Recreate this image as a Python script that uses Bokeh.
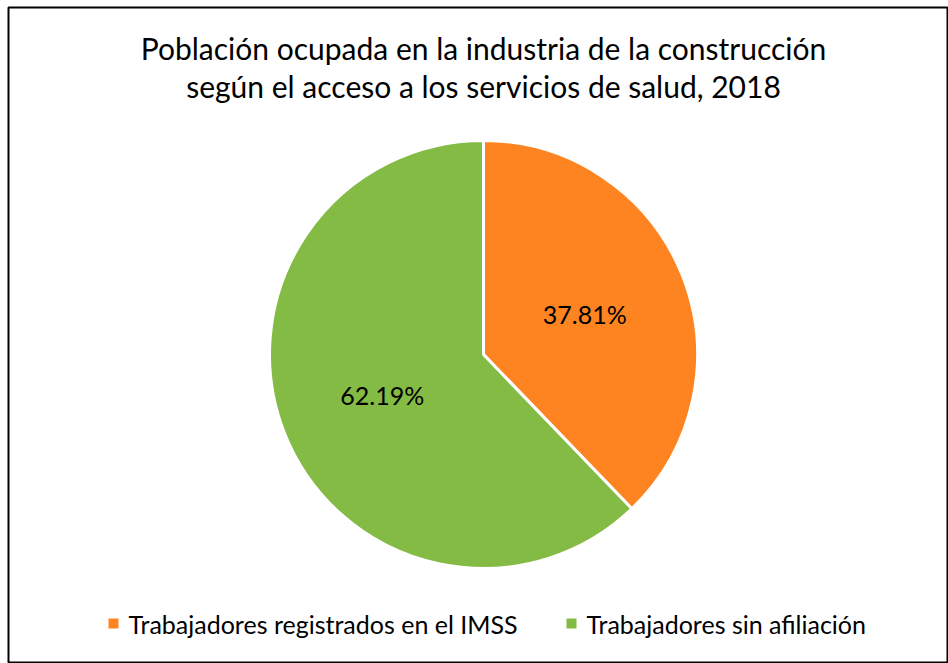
import math
from bokeh.plotting import figure
from bokeh.models import Range1d
from bokeh.core.properties import value
from bokeh.embed import file_html
from bokeh.resources import INLINE

title_lines = ["Población ocupada en la industria de la construcción",
               "según el acceso a los servicios de salud, 2018"]
categories = ["Trabajadores registrados en el IMSS", "Trabajadores sin afiliación"]
shares = [37.81, 62.19]
colors = ["#FD8420", "#84BB44"]

W, H = 948, 663
FONT = "Lato"

p = figure(width=W, height=H, output_backend="svg", toolbar_location=None,
           x_range=Range1d(0, W), y_range=Range1d(0, H), min_border=0,
           outline_line_color=None)
p.axis.visible = False
p.grid.visible = False

def Y(py):
    return H - py

# frame border (chart area outline)
p.quad(left=[8], right=[947], bottom=[Y(662)], top=[Y(7)], fill_color=None,
       line_color="black", line_width=2)

cx, cy, r = 483, Y(354), 214

total = sum(shares)
start = math.pi / 2
starts, ends, mids = [], [], []
for s in shares:
    ang = 2 * math.pi * s / total
    end = start - ang
    starts.append(end)
    ends.append(start)
    mids.append((start + end) / 2)
    start = end

p.wedge(x=[cx] * len(shares), y=[cy] * len(shares), radius=r,
        start_angle=starts, end_angle=ends, fill_color=colors,
        line_color="white", line_width=3)

lab_r = 0.51 * r
lx = [cx + lab_r * math.cos(m) for m in mids]
ly = [cy + lab_r * math.sin(m) for m in mids]
p.text(x=lx, y=ly, text=[f"{s:.2f}%" for s in shares], text_align="center",
       text_baseline="middle", text_font=value(FONT), text_font_size="25px",
       text_color="black")

p.text(x=[483, 483], y=[Y(47), Y(85)], text=title_lines, text_align="center",
       text_baseline="middle", text_font=value(FONT), text_font_size="30px",
       text_color="black")

leg_x = [113, 571]
leg_y = [Y(623), Y(623)]
p.scatter(x=leg_x, y=leg_y, marker="square", size=10, fill_color=colors,
          line_color=None)
p.text(x=[x + 15 for x in leg_x], y=leg_y, text=categories, text_align="left",
       text_baseline="middle", text_font=value(FONT), text_font_size="25px",
       text_color="black")

open("out.html", "w").write(file_html(p, INLINE))
